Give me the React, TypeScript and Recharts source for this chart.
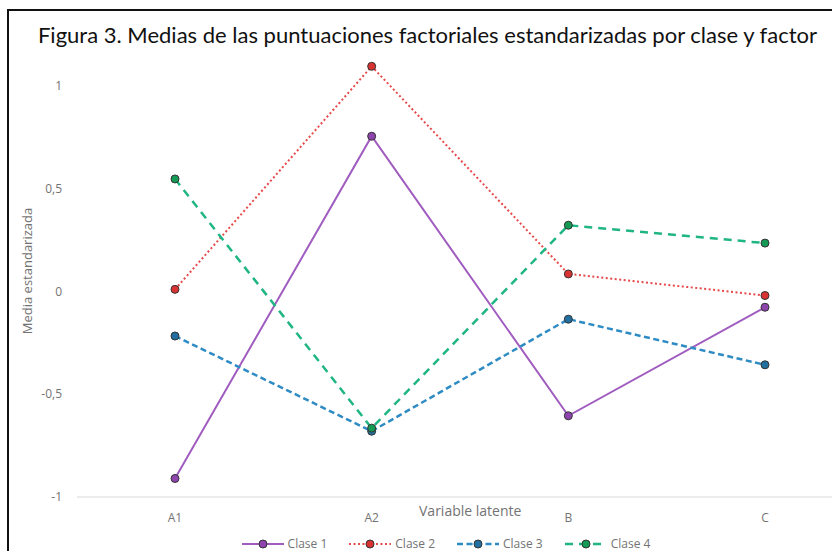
import { LineChart, Line, XAxis, YAxis } from 'recharts'

const CATEGORIES = ['A1', 'A2', 'B', 'C']
const CLASE_1 = [-0.91, 0.755, -0.605, -0.077]
const CLASE_2 = [0.01, 1.095, 0.085, -0.02]
const CLASE_3 = [-0.217, -0.68, -0.135, -0.357]
const CLASE_4 = [0.547, -0.665, 0.322, 0.235]
const Y_TICKS = [-1, -0.5, 0, 0.5, 1]

const SERIES = [
  { key: 'c1', name: 'Clase 1', values: CLASE_1, stroke: '#a05cbf', dot: '#8e44ad', dash: undefined, width: 2 },
  { key: 'c2', name: 'Clase 2', values: CLASE_2, stroke: '#e8494a', dot: '#d93232', dash: '2 2.5', width: 2 },
  { key: 'c3', name: 'Clase 3', values: CLASE_3, stroke: '#2e8bc4', dot: '#22709f', dash: '6 3.5', width: 2.5 },
  { key: 'c4', name: 'Clase 4', values: CLASE_4, stroke: '#1fb584', dot: '#149a55', dash: '8 6', width: 2.5 },
]

const data = CATEGORIES.map((cat, i) => {
  const row: Record<string, string | number> = { cat }
  for (const s of SERIES) row[s.key] = s.values[i]
  return row
})

const TICK_FONT = '"Open Sans", "Noto Sans", sans-serif'
const TICK_COLOR = '#737373'

function fmt(v: number) {
  return String(v).replace('.', ',')
}

function LegendSwatch({ s }: { s: (typeof SERIES)[number] }) {
  return (
    <svg width={42} height={12} style={{ marginRight: 4 }}>
      <line x1={0} y1={6} x2={42} y2={6} stroke={s.stroke} strokeWidth={s.width} strokeDasharray={s.dash} />
      <circle cx={21} cy={6} r={4} fill={s.dot} stroke="#333" strokeWidth={1} />
    </svg>
  )
}

export default function App() {
  return (
    <div style={{ position: 'fixed', left: 0, top: 0, width: 832, height: 551, background: '#fff', overflow: 'hidden' }}>
      {/* frame */}
      <div style={{ position: 'absolute', left: 7, top: 9, width: 840, height: 560, borderLeft: '2px solid #111', borderTop: '2px solid #111' }} />

      <div style={{
        position: 'absolute', left: 0, top: 21, width: 855, textAlign: 'center',
        fontFamily: 'Lato, "Open Sans", sans-serif', fontSize: 22, fontWeight: 400, color: '#111', whiteSpace: 'nowrap',
      }}>
        Figura 3. Medias de las puntuaciones factoriales estandarizadas por clase y factor
      </div>

      <div style={{ position: 'absolute', left: 0, top: 0 }}>
        <LineChart width={832} height={551} data={data} margin={{ top: 55, right: 0, bottom: 24, left: 20 }}>
          <XAxis
            dataKey="cat"
            padding={{ left: 98, right: 67 }}
            axisLine={{ stroke: '#d9d9d9', strokeWidth: 1 }}
            tickLine={false}
            tickSize={0}
            tickMargin={16}
            height={30}
            tick={{ fontSize: 12, fill: TICK_COLOR, fontFamily: TICK_FONT }}
          />
          <YAxis
            domain={[-1, 1.15]}
            ticks={Y_TICKS}
            tickFormatter={fmt}
            axisLine={false}
            tickLine={false}
            tickSize={0}
            tickMargin={15}
            width={57}
            allowDataOverflow
            tick={{ fontSize: 12, fill: TICK_COLOR, fontFamily: TICK_FONT }}
          />
          {SERIES.map((s) => (
            <Line
              key={s.key}
              dataKey={s.key}
              name={s.name}
              type="linear"
              stroke={s.stroke}
              strokeWidth={s.width}
              strokeDasharray={s.dash}
              dot={{ r: 4, fill: s.dot, stroke: '#333', strokeWidth: 1, strokeDasharray: '' }}
              activeDot={false}
              isAnimationActive={false}
            />
          ))}
        </LineChart>
      </div>

      <div style={{
        position: 'absolute', left: 27, top: 271, width: 0, height: 0,
      }}>
        <div style={{
          position: 'absolute', transform: 'translate(-50%, -50%) rotate(-90deg)', whiteSpace: 'nowrap',
          fontFamily: TICK_FONT, fontSize: 13, color: TICK_COLOR,
        }}>
          Media estandarizada
        </div>
      </div>

      <div style={{
        position: 'absolute', left: 419, top: 501, whiteSpace: 'nowrap',
        fontFamily: TICK_FONT, fontSize: 14, color: TICK_COLOR,
      }}>
        Variable latente
      </div>

      <div style={{
        position: 'absolute', left: 0, width: 892, top: 537, height: 14, lineHeight: '14px',
        display: 'flex', justifyContent: 'center', gap: 22,
        fontFamily: TICK_FONT, fontSize: 12, color: TICK_COLOR,
      }}>
        {SERIES.map((s) => (
          <div key={s.key} style={{ display: 'flex', alignItems: 'center' }}>
            <LegendSwatch s={s} />
            <span>{s.name}</span>
          </div>
        ))}
      </div>
    </div>
  )
}
